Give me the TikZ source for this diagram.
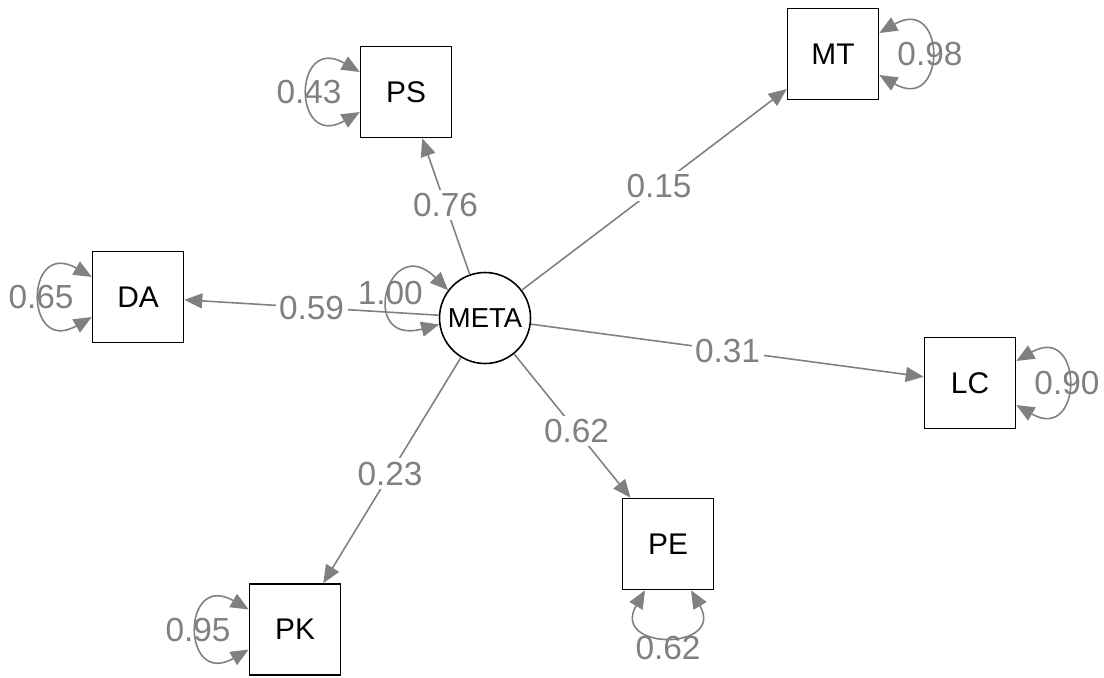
\documentclass[tikz,border=0pt]{standalone}
\usepackage{fontspec}
\setmainfont{Liberation Sans}
\usetikzlibrary{arrows.meta,calc}
\begin{document}
\begin{tikzpicture}[
  manifest/.style={draw,line width=0.45pt,minimum size=0.91cm,inner sep=0pt,font=\fontsize{8.5}{9}\selectfont},
  latent/.style={draw,circle,line width=0.45pt,minimum size=0.91cm,inner sep=0pt,font=\fontsize{7.8}{9}\selectfont},
  edge/.style={color=gray,line width=0.45pt,arrows={-Triangle[length=1.8mm,width=1.5mm]}},
  resid/.style={color=gray,line width=0.45pt,arrows={Triangle[length=1.8mm,width=1.5mm]-Triangle[length=1.8mm,width=1.5mm]}},
  weight/.style={fill=white,text=gray,inner sep=1pt,font=\fontsize{9.5}{10}\selectfont},
  var/.style={text=gray,inner sep=0pt,font=\fontsize{9.5}{10}\selectfont}]
  \useasboundingbox (0,0) rectangle (11.04,6.77);

  \node[latent] (meta) at (4.85,3.59) {META};
  \node[manifest] (PS) at (4.06,5.85) {PS};
  \node[manifest] (MT) at (8.33,6.23) {MT};
  \node[manifest] (DA) at (1.38,3.80) {DA};
  \node[manifest] (LC) at (9.70,2.94) {LC};
  \node[manifest] (PE) at (6.68,1.33) {PE};
  \node[manifest] (PK) at (2.95,0.475) {PK};

  % loadings
  \draw[edge] (meta) -- (PS);
  \draw[edge] (meta) -- (MT);
  \draw[edge] (meta) -- (DA);
  \draw[edge] (meta) -- (LC);
  \draw[edge] (meta) -- (PE);
  \draw[edge] (meta) -- (PK);
  \node[weight] at ($(meta)!0.5!(PS)$) {0.76};
  \node[weight] at ($(meta)!0.5!(MT)$) {0.15};
  \node[weight] at ($(meta)!0.5!(DA)$) {0.59};
  \node[weight] at ($(meta)!0.5!(LC)$) {0.31};
  \node[weight] at ($(meta)!0.5!(PE)$) {0.62};
  \node[weight] at ($(meta)!0.5!(PK)$) {0.23};

  % variances
  \draw[resid] (meta.143) .. controls +(135:0.85) and +(195:0.85) .. (meta.188) node[var,pos=0.5] {1.00};
  \draw[resid] ([yshift=2mm]PS.west) .. controls +(150:0.78) and +(210:0.78) .. ([yshift=-2mm]PS.west) node[var,pos=0.5] {0.43};
  \draw[resid] ([yshift=2mm]DA.west) .. controls +(150:0.78) and +(210:0.78) .. ([yshift=-2mm]DA.west) node[var,pos=0.5] {0.65};
  \draw[resid] ([yshift=2mm]PK.west) .. controls +(150:0.78) and +(210:0.78) .. ([yshift=-2mm]PK.west) node[var,pos=0.5] {0.95};
  \draw[resid] ([yshift=2.1mm]MT.east) .. controls +(30:0.78) and +(-30:0.78) .. ([yshift=-2.1mm]MT.east) node[var,pos=0.5] {0.98};
  \draw[resid] ([yshift=2.2mm]LC.east) .. controls +(30:0.78) and +(-30:0.78) .. ([yshift=-2.2mm]LC.east) node[var,pos=0.5] {0.90};
  \draw[resid] ([xshift=-2.3mm]PE.south) .. controls +(240:0.7) and +(300:0.7) .. ([xshift=2.3mm]PE.south) node[var,pos=0.5,yshift=-1.2mm] {0.62};
\end{tikzpicture}
\end{document}
